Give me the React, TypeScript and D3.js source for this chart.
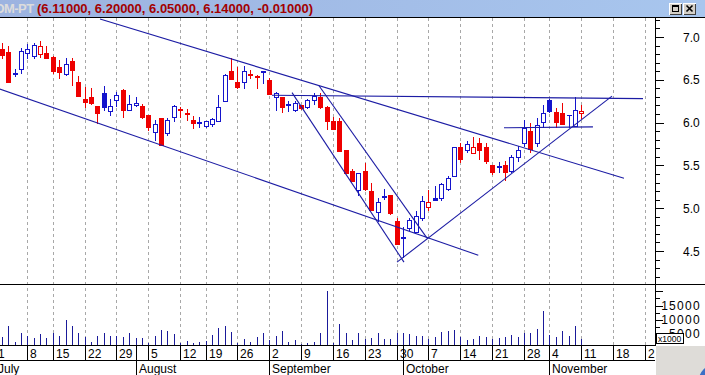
import { useEffect, useRef } from 'react';
import * as d3 from 'd3';

// trading-day series, index 0 = 1 July (just off the left edge)
const opens = [
  6.85, 6.86, 6.82, 6.57, 6.63, 6.81, 6.78, 6.80, 6.81, 6.77,
  6.65, 6.57, 6.72, 6.47, 6.28, 6.30, 6.19, 6.34, 6.14, 6.26,
  6.38, 6.15, 6.20, 6.19, 6.09, 5.89, 6.05, 5.88, 6.06, 6.16,
  6.11, 6.03, 6.00, 5.96, 5.98, 6.02, 6.25, 6.60, 6.48, 6.47,
  6.57, 6.53, 6.60, 6.50, 6.30, 6.30, 6.21, 6.15, 6.21, 6.18,
  6.26, 6.30, 6.18, 6.02, 6.02, 5.68, 5.43, 5.21, 5.44, 5.20,
  4.95, 5.13, 5.15, 4.85, 4.66, 4.77, 4.72, 4.88, 5.01, 5.12,
  5.12, 5.23, 5.38, 5.71, 5.68, 5.65, 5.76, 5.72, 5.51, 5.48,
  5.51, 5.44, 5.60, 5.76, 5.90, 5.76, 6.01, 6.26, 6.12, 6.11,
  6.09, 5.96, 6.11,
];
const highs = [
  6.92, 6.93, 6.89, 6.63, 6.87, 6.92, 6.93, 6.95, 6.89, 6.78,
  6.73, 6.75, 6.76, 6.54, 6.42, 6.41, 6.19, 6.43, 6.28, 6.36,
  6.39, 6.32, 6.30, 6.22, 6.09, 6.03, 6.05, 6.05, 6.21, 6.18,
  6.16, 6.08, 6.06, 6.02, 6.05, 6.32, 6.57, 6.75, 6.65, 6.66,
  6.62, 6.56, 6.60, 6.52, 6.36, 6.30, 6.25, 6.25, 6.21, 6.28,
  6.35, 6.34, 6.19, 6.07, 6.05, 5.68, 5.46, 5.41, 5.53, 5.30,
  5.12, 5.22, 5.16, 4.88, 4.78, 4.88, 4.97, 5.14, 5.21, 5.26,
  5.30, 5.38, 5.72, 5.76, 5.78, 5.83, 5.82, 5.76, 5.51, 5.54,
  5.55, 5.62, 5.73, 6.03, 5.99, 6.05, 6.20, 6.28, 6.17, 6.23,
  6.09, 6.30, 6.20,
];
const lows = [
  6.80, 6.75, 6.48, 6.55, 6.58, 6.75, 6.76, 6.77, 6.75, 6.58,
  6.52, 6.56, 6.44, 6.31, 6.18, 6.22, 6.00, 6.15, 6.09, 6.19,
  6.07, 6.15, 6.19, 6.05, 5.91, 5.80, 5.74, 5.86, 6.02, 6.07,
  6.03, 5.94, 5.95, 5.95, 5.96, 6.02, 6.25, 6.51, 6.41, 6.40,
  6.52, 6.40, 6.46, 6.33, 6.15, 6.12, 6.13, 6.13, 6.16, 6.17,
  6.22, 6.17, 5.93, 5.92, 5.67, 5.41, 5.32, 5.15, 5.21, 4.98,
  4.85, 5.11, 4.93, 4.58, 4.43, 4.75, 4.72, 4.86, 4.98, 5.09,
  5.10, 5.21, 5.38, 5.54, 5.66, 5.64, 5.58, 5.53, 5.40, 5.42,
  5.33, 5.42, 5.55, 5.73, 5.66, 5.73, 5.95, 6.12, 5.95, 5.98,
  5.95, 5.96, 6.05,
];
const closes = [
  6.88, 6.79, 6.48, 6.58, 6.84, 6.86, 6.91, 6.90, 6.76, 6.60,
  6.59, 6.69, 6.62, 6.31, 6.24, 6.23, 6.11, 6.18, 6.19, 6.32,
  6.15, 6.22, 6.23, 6.06, 5.95, 5.98, 5.74, 6.03, 6.19, 6.15,
  6.10, 6.00, 6.01, 6.02, 6.04, 6.18, 6.56, 6.51, 6.42, 6.60,
  6.56, 6.55, 6.59, 6.33, 6.34, 6.18, 6.22, 6.23, 6.17, 6.26,
  6.31, 6.18, 6.02, 5.93, 5.67, 5.41, 5.32, 5.41, 5.23, 4.98,
  5.07, 5.14, 4.94, 4.58, 4.65, 4.86, 4.91, 5.08, 5.07, 5.10,
  5.28, 5.35, 5.72, 5.58, 5.75, 5.71, 5.68, 5.55, 5.42, 5.49,
  5.42, 5.60, 5.68, 5.94, 5.69, 5.97, 6.11, 6.14, 6.01, 5.98,
  6.09, 6.15, 6.14,
];
// volume in axis units (x1000)
const volumes = [
  3810, 3810, 7760, 2250, 5370, 4270, 3630, 4910, 3630, 5370,
  4360, 9870, 7760, 5370, 4000, 2250, 4360, 5370, 4360, 4360,
  3810, 5370, 3630, 3630, 1610, 4360, 6380, 6010, 4910, 1790,
  2440, 1880, 2250, 2620, 4550, 7210, 7760, 5740, 1610, 3080,
  2250, 4000, 5370, 2800, 4270, 6010, 2250, 2800, 1520, 1880,
  2250, 5370, 20240, 1610, 8490, 5370, 2800, 5370, 3080, 3450,
  5370, 3080, 3080, 5370, 5370, 4910, 4270, 4270, 3080, 4000,
  5740, 6110, 6380, 4000, 2800, 3080, 4270, 3810, 3080, 3450,
  3810, 4550, 4000, 5190, 5190, 6570, 13080, 4550, 3810, 6110,
  4270, 7760, 3080,
];

// week starts (Mondays) and how many trading days each week holds
const weekLabels = ['1', '8', '15', '22', '29', '5', '12', '19', '26', '2', '9', '16', '23', '30', '7', '14', '21', '28', '4', '11', '18', '25'];
const weekDays = [5, 4, 5, 5, 5, 5, 4, 5, 5, 5, 5, 5, 5, 5, 5, 5, 5, 4, 5, 5, 5, 5];
const monthNames = ['July', 'August', 'September', 'October', 'November'];
const monthStarts = [0, 22, 43, 64, 87];

const priceTicks = [4.5, 5.0, 5.5, 6.0, 6.5, 7.0];
const volumeTicks = [5000, 10000, 15000];

// drawn trend lines: [dayIndex1, price1, dayIndex2, price2]
const trendLines: [number, number, number, number][] = [
  [16.42, 7.21, 98.7, 5.35],
  [0, 6.41, 75.82, 4.45],
  [43.43, 6.32, 101.69, 6.28],
  [46.57, 6.35, 64.15, 4.37],
  [50.81, 6.43, 67.77, 4.65],
  [63.06, 4.37, 96.82, 6.31],
  [79.86, 5.94, 93.83, 5.95],
];

const symbol = 'OM-PT';

export default function App() {
  const svgRef = useRef<SVGSVGElement>(null);

  useEffect(() => {
    document.body.style.margin = '0';
    if (!svgRef.current) return;
    const svg = d3.select(svgRef.current);
    svg.selectAll('*').remove();

    const W = 705;
    const H = 375;
    const plotRight = 655;
    const priceTop = 18;
    const priceBottom = 284;
    const volBottom = 345;
    const font = '"Liberation Sans", Arial, sans-serif';

    const RED = '#ee0000';
    const BLUE = '#1414cc';
    const LINE = '#1c1ca4';
    const VOL = '#1a1a9a';

    const x = d3.scaleLinear().domain([0, 102]).range([-4.54, 645]);
    const y = d3.scaleLinear().domain([4.5, 7.0]).range([251, 37]);
    const yv = d3.scaleLinear().domain([0, 15000]).range([348, 305.5]);
    const px = (i: number) => Math.round(x(i)) + 0.5;

    const mondays: number[] = [];
    weekDays.reduce((acc, d) => {
      mondays.push(acc);
      return acc + d;
    }, 0);

    const defs = svg.append('defs');
    const grad = defs.append('linearGradient').attr('id', 'title').attr('x1', 0).attr('x2', 1);
    grad.append('stop').attr('offset', 0).attr('stop-color', '#9cb3e0');
    grad.append('stop').attr('offset', 1).attr('stop-color', '#a8c6ee');
    defs.append('clipPath').attr('id', 'pclip')
      .append('rect').attr('x', 0).attr('y', priceTop).attr('width', plotRight).attr('height', priceBottom - priceTop);
    defs.append('clipPath').attr('id', 'vclip')
      .append('rect').attr('x', 0).attr('y', priceBottom).attr('width', plotRight).attr('height', volBottom - priceBottom);
    defs.append('clipPath').attr('id', 'aclip')
      .append('rect').attr('x', 0).attr('y', volBottom).attr('width', plotRight).attr('height', H - volBottom);

    svg.append('rect').attr('width', W).attr('height', H).attr('fill', '#fff');

    // vertical dashed grid on mondays
    svg.append('g')
      .selectAll('line')
      .data(mondays)
      .join('line')
      .attr('x1', d => px(d))
      .attr('x2', d => px(d))
      .attr('y1', priceTop)
      .attr('y2', volBottom)
      .attr('stroke', '#a8a8a8')
      .attr('stroke-dasharray', '3,3');

    // candles
    const candles = svg.append('g').attr('clip-path', 'url(#pclip)');
    opens.forEach((o, i) => {
      const c = closes[i];
      const prev = i > 0 ? closes[i - 1] : c;
      const color = c >= prev ? BLUE : RED;
      const cx = px(i);
      candles.append('line')
        .attr('x1', cx).attr('x2', cx)
        .attr('y1', Math.round(y(highs[i])))
        .attr('y2', Math.round(y(lows[i])) + 1)
        .attr('stroke', color);
      const top = Math.round(y(Math.max(o, c)));
      const bot = Math.round(y(Math.min(o, c)));
      if (c >= o) {
        candles.append('rect')
          .attr('x', cx - 2).attr('y', top + 0.5)
          .attr('width', 4).attr('height', Math.max(bot - top, 0.01))
          .attr('fill', '#fff').attr('stroke', color);
      } else {
        candles.append('rect')
          .attr('x', cx - 2.5).attr('y', top)
          .attr('width', 5).attr('height', Math.max(bot - top, 1) + 1)
          .attr('fill', color);
      }
    });

    // trend lines
    svg.append('g').attr('clip-path', 'url(#pclip)')
      .selectAll('line')
      .data(trendLines)
      .join('line')
      .attr('x1', d => x(d[0]))
      .attr('y1', d => y(d[1]))
      .attr('x2', d => x(d[2]))
      .attr('y2', d => y(d[3]))
      .attr('stroke', LINE)
      .attr('stroke-width', 1.1);

    // volume
    svg.append('g').attr('clip-path', 'url(#vclip)')
      .selectAll('line')
      .data(volumes)
      .join('line')
      .attr('x1', (d, i) => px(i))
      .attr('x2', (d, i) => px(i))
      .attr('y1', volBottom + 1)
      .attr('y2', d => Math.round(yv(d)))
      .attr('stroke', VOL);

    // frame lines
    const frame = svg.append('g').attr('stroke', '#000').attr('shape-rendering', 'crispEdges');
    frame.append('line').attr('x1', 0).attr('x2', W).attr('y1', priceTop - 0.5).attr('y2', priceTop - 0.5);
    frame.append('line').attr('x1', 0).attr('x2', W).attr('y1', priceBottom + 0.5).attr('y2', priceBottom + 0.5);
    frame.append('line').attr('x1', 0).attr('x2', plotRight).attr('y1', volBottom + 0.5).attr('y2', volBottom + 0.5);
    frame.append('line').attr('x1', 0).attr('x2', plotRight).attr('y1', 360.5).attr('y2', 360.5);
    frame.append('line').attr('x1', plotRight + 0.5).attr('x2', plotRight + 0.5).attr('y1', priceTop).attr('y2', volBottom + 1);

    // price axis
    const pAxis = svg.append('g').attr('font-family', font).attr('font-size', 12);
    d3.range(42, 73).forEach(t => {
      const major = t % 5 === 0;
      const ty = Math.round(y(t / 10)) + 0.5;
      pAxis.append('line')
        .attr('x1', plotRight).attr('x2', plotRight + (major ? 9 : 5))
        .attr('y1', ty).attr('y2', ty).attr('stroke', '#000');
    });
    pAxis.selectAll('text')
      .data(priceTicks)
      .join('text')
      .attr('x', 683)
      .attr('y', d => y(d) + 4.5)
      .attr('fill', '#000')
      .text(d => d.toFixed(1));

    // volume axis
    const vAxis = svg.append('g').attr('font-family', font).attr('font-size', 12).attr('letter-spacing', 1.3);
    d3.range(0, 23001, 2500).forEach(t => {
      const ty = Math.round(yv(t)) + 0.5;
      if (ty < priceBottom + 1 || ty > volBottom) return;
      pAxis.append('line')
        .attr('x1', plotRight).attr('x2', plotRight + (t % 5000 === 0 ? 8 : 5))
        .attr('y1', ty).attr('y2', ty).attr('stroke', '#000');
    });
    vAxis.selectAll('text')
      .data(volumeTicks)
      .join('text')
      .attr('x', 701)
      .attr('y', d => yv(d) + 4.3)
      .attr('text-anchor', 'end')
      .attr('fill', '#000')
      .text(d => d);
    vAxis.append('rect')
      .attr('x', 656.5).attr('y', 333.5).attr('width', 27).attr('height', 10)
      .attr('fill', '#fff').attr('stroke', '#000');
    vAxis.append('text')
      .attr('x', 658).attr('y', 342).attr('font-size', 8.5).attr('letter-spacing', 0).text('x1000');

    // lower right corner of the window
    svg.append('rect').attr('x', plotRight + 1).attr('y', volBottom + 1).attr('width', W - plotRight).attr('height', H - volBottom)
      .attr('fill', '#dedcd8');
    svg.append('circle').attr('cx', 714).attr('cy', 380).attr('r', 15).attr('fill', '#3d6fc6');

    // date axis
    const dAxis = svg.append('g').attr('clip-path', 'url(#aclip)').attr('font-family', font).attr('font-size', 12);
    mondays.forEach((m, k) => {
      dAxis.append('line')
        .attr('x1', px(m)).attr('x2', px(m))
        .attr('y1', volBottom).attr('y2', 360).attr('stroke', '#000');
      dAxis.append('text')
        .attr('x', px(m) + 2.5).attr('y', 357.5).text(weekLabels[k]);
    });
    monthStarts.forEach((m, k) => {
      dAxis.append('line')
        .attr('x1', px(m)).attr('x2', px(m))
        .attr('y1', volBottom).attr('y2', H).attr('stroke', '#000');
      dAxis.append('text')
        .attr('x', px(m) + 2.5).attr('y', 372.5).text(monthNames[k]);
    });

    // title bar
    const last = opens.length - 1;
    const f5 = (v: number) => v.toFixed(5);
    const titleValues = `(${f5(opens[last])}, ${f5(highs[last])}, ${f5(lows[last])}, ${f5(closes[last])}, ${f5(closes[last] - closes[last - 1])})`;
    svg.append('rect').attr('width', W).attr('height', priceTop - 1).attr('fill', 'url(#title)');
    svg.append('text')
      .attr('x', 33.5).attr('y', 13).attr('text-anchor', 'end')
      .attr('font-family', font).attr('font-size', 13).attr('font-weight', 'bold').attr('letter-spacing', -0.6)
      .attr('fill', '#dcdcdc').text(symbol);
    svg.append('text')
      .attr('x', 37).attr('y', 13)
      .attr('font-family', font).attr('font-size', 13).attr('font-weight', 'bold')
      .attr('fill', '#a30000').text(titleValues);

    // window buttons
    [669, 683].forEach((bx, k) => {
      const b = svg.append('g').attr('shape-rendering', 'crispEdges');
      b.append('rect').attr('x', bx).attr('y', 3).attr('width', 13).attr('height', 12).attr('fill', '#d4d0c8');
      b.append('path').attr('d', `M${bx + 0.5},${14.5}V${3.5}H${bx + 12.5}`).attr('stroke', '#fff').attr('fill', 'none');
      b.append('path').attr('d', `M${bx + 12.5},${3.5}V${14.5}H${bx + 0.5}`).attr('stroke', '#404040').attr('fill', 'none');
      if (k === 0) {
        b.append('rect').attr('x', bx + 3.5).attr('y', 5.5).attr('width', 6).attr('height', 6)
          .attr('fill', 'none').attr('stroke', '#000');
        b.append('line').attr('x1', bx + 3.5).attr('x2', bx + 9.5).attr('y1', 6.5).attr('y2', 6.5).attr('stroke', '#000');
      } else {
        b.append('path').attr('d', `M${bx + 3.5},${5.5}L${bx + 9.5},${11.5}M${bx + 9.5},${5.5}L${bx + 3.5},${11.5}`)
          .attr('stroke', '#000').attr('stroke-width', 1.6).attr('shape-rendering', 'auto');
      }
    });
  }, []);

  return <svg ref={svgRef} width={705} height={375} style={{ display: 'block' }} />;
}
